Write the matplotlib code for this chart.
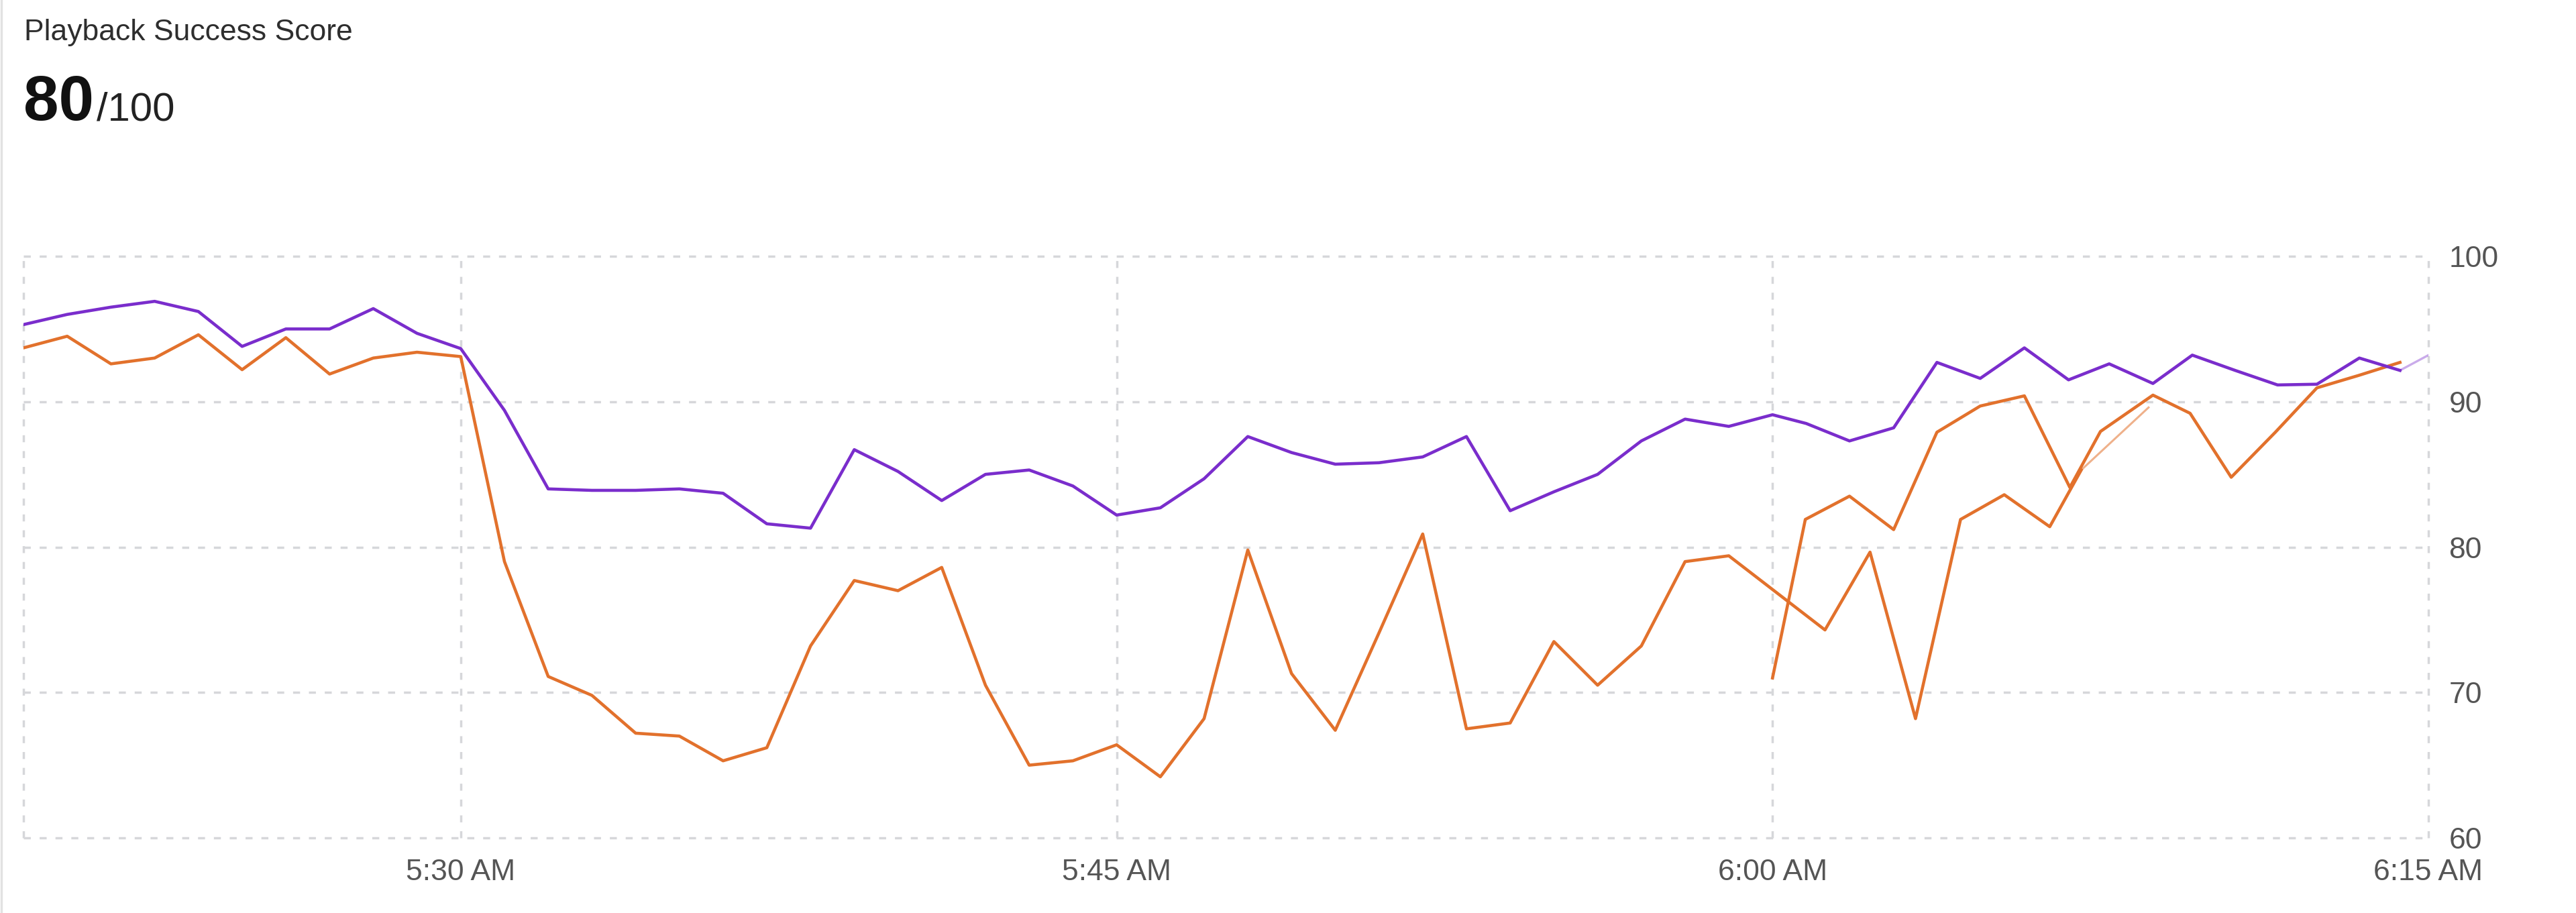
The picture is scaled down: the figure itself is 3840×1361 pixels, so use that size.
import matplotlib.pyplot as plt

plt.rcParams['font.family'] = ['Liberation Sans', 'DejaVu Sans']

# time axis: minutes after 5:20 AM
x_ticks = [10, 25, 40, 55]
x_labels = ["5:30 AM", "5:45 AM", "6:00 AM", "6:15 AM"]
y_ticks = [60, 70, 80, 90, 100]

# purple series
purple_t = list(range(0, 41)) + [40.77, 41.76, 42.77, 43.76, 44.75, 45.76, 46.77,
                                 47.7, 48.7, 49.6, 50.58, 51.55, 52.45, 53.42, 54.35]
purple_v = [95.3, 96.0, 96.5, 96.9, 96.2, 93.8, 95.0, 95.0, 96.4, 94.7,
            93.65, 89.4, 84.0, 83.9, 83.9, 84.0, 83.7, 81.6, 81.3, 86.7,
            85.2, 83.2, 85.0, 85.3, 84.2, 82.2, 82.7, 84.7, 87.6, 86.5,
            85.7, 85.8, 86.2, 87.6, 82.5, 83.8, 85.0, 87.3, 88.8, 88.3,
            89.1, 88.5, 87.3, 88.2, 92.7, 91.6, 93.7, 91.5, 92.6, 91.25,
            93.2, 92.15, 91.15, 91.2, 93.0, 92.15]
purple_tail_t = [54.35, 55.0]
purple_tail_v = [92.15, 93.2]

# orange series (from 5:20)
orange_t = list(range(0, 40)) + [41.2, 42.23, 43.27, 44.3, 45.3, 46.34, 47.06]
orange_v = [93.7, 94.5, 92.6, 93.0, 94.6, 92.2, 94.4, 91.9, 93.0, 93.4,
            93.1, 79.0, 71.1, 69.8, 67.2, 67.0, 65.3, 66.2, 73.2, 77.7,
            77.0, 78.6, 70.5, 65.0, 65.3, 66.4, 64.2, 68.2, 79.8, 71.3,
            67.4, 74.1, 80.9, 67.5, 67.9, 73.5, 70.5, 73.2, 79.0, 79.4,
            74.3, 79.65, 68.2, 81.9, 83.6, 81.4, 85.3]
orange_tail_t = [47.06, 48.6]
orange_tail_v = [85.3, 89.6]

# second orange series (from 6:00)
orange2_t = [40.0, 40.75, 41.76, 42.77, 43.76, 44.75, 45.76, 46.8,
             47.5, 48.7, 49.55, 50.49, 51.5, 52.45, 53.4, 54.35]
orange2_v = [71.0, 81.9, 83.5, 81.2, 87.9, 89.7, 90.4, 84.1,
             87.95, 90.45, 89.2, 84.8, 87.9, 90.95, 91.8, 92.7]

PURPLE = '#7a2dcc'
ORANGE = '#e2712c'
GRID = '#d6d7da'

W, H = 3840, 1361
fig = plt.figure(figsize=(W / 100, H / 100), dpi=100)
ax = fig.add_axes([35 / W, 1 - 1249 / H, (3620 - 35) / W, (1249 - 382) / H])

# dotted grid, including the frame edges
for y in y_ticks:
    ax.axhline(y, color=GRID, lw=2.5, ls=(0, (3.0, 3.8)), clip_on=False, zorder=1)
for x in [0] + x_ticks:
    ax.axvline(x, color=GRID, lw=2.5, ls=(0, (3.0, 3.8)), clip_on=False, zorder=1)

ax.plot(orange_t, orange_v, color=ORANGE, lw=3.3, zorder=3)
ax.plot(orange_tail_t, orange_tail_v, color=ORANGE, lw=2.2, alpha=0.55, zorder=3)
ax.plot(orange2_t, orange2_v, color=ORANGE, lw=3.3, zorder=3)
ax.plot(purple_t, purple_v, color=PURPLE, lw=3.3, zorder=4)
ax.plot(purple_tail_t, purple_tail_v, color=PURPLE, lw=2.4, alpha=0.4, zorder=4)

ax.set_xlim(0, 55)
ax.set_ylim(60, 100)
ax.set_xticks(x_ticks, x_labels)
ax.set_yticks(y_ticks, [str(v) for v in y_ticks])
ax.yaxis.tick_right()
ax.tick_params(axis='both', length=0, labelsize=32, labelcolor='#555555')
ax.tick_params(axis='x', pad=22)
ax.tick_params(axis='y', pad=22)
for s in ax.spines.values():
    s.set_visible(False)

# header
fig.text(36 / W, 1 - 60 / H, "Playback Success Score", fontsize=32,
         color='#2e2e2e', va='baseline', ha='left')
t80 = fig.text(35 / W, 1 - 179 / H, "80", fontsize=68, fontweight='bold',
               color='#111111', va='baseline', ha='left')
fig.canvas.draw()
bb = t80.get_window_extent()
fig.text((bb.x1 + 4) / W, 1 - 179 / H, "/100", fontsize=43,
         color='#222222', va='baseline', ha='left')

# card border on the left
fig.add_artist(plt.Line2D([1.5 / W, 1.5 / W], [0, 1], color='#e2e2e2', lw=2.5,
                          transform=fig.transFigure))

fig.savefig('out.png', dpi=100)
